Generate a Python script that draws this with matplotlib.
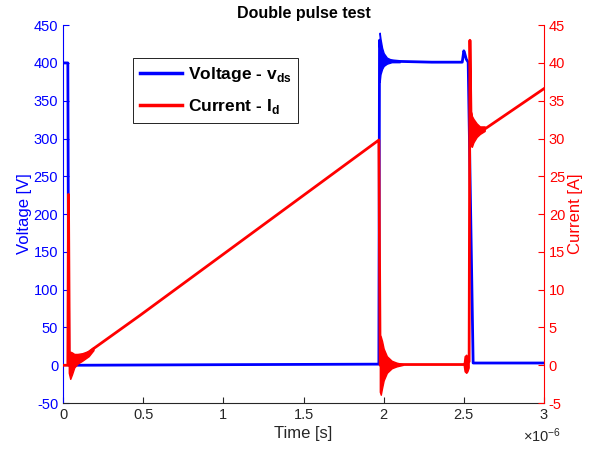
import numpy as np
import matplotlib
matplotlib.use('Agg')
import matplotlib.pyplot as plt
from matplotlib.ticker import ScalarFormatter

plt.rcParams['font.family'] = ['Liberation Sans', 'DejaVu Sans']
plt.rcParams['mathtext.fontset'] = 'custom'
plt.rcParams['mathtext.rm'] = 'Liberation Sans'
plt.rcParams['mathtext.bf'] = 'Liberation Sans:bold'
plt.rcParams['axes.unicode_minus'] = False

# Drain-source voltage (time in us, volts)
v_t = [0, 0.030, 0.036, 1.0, 1.970, 1.974, 1.985, 2.0, 2.1, 2.3, 2.490, 2.500, 2.505, 2.515, 2.527, 2.558, 3.0]
v_val = [400, 400, 0, 0.8, 1.5, 430, 410, 404, 402, 401, 401, 416, 413, 405, 401, 3, 3]

# voltage ringing after turn-off (envelope)
vr_t = [1.975, 1.980, 1.990, 2.000, 2.020, 2.050, 2.100]
vr_hi = [440, 432, 420, 413, 407, 404, 402]
vr_lo = [375, 385, 392, 396, 399, 401, 401]

# Drain current (time in us, amps)
i_t = [0, 0.030, 0.034, 0.040, 0.06, 0.10, 0.19, 0.48, 1.970, 1.978, 2.1, 2.50, 2.533, 2.538, 2.545, 2.552, 2.57, 2.62, 3.0]
i_val = [0, 0, 22.6, 0, 0.5, 0.8, 2.2, 6.6, 29.8, 0, 0.1, 0.1, 0.5, 43, 32.5, 31.0, 30.8, 31.1, 36.6]

# current ringing envelopes
r1_t = [0.036, 0.045, 0.056, 0.07, 0.09, 0.12, 0.16, 0.19]
r1_hi = [1.8, 1.8, 1.7, 1.5, 1.5, 1.6, 1.9, 2.4]
r1_lo = [-1.0, -1.8, -1.2, -0.3, 0.2, 0.6, 1.2, 2.0]

r2_t = [1.976, 1.982, 1.990, 2.000, 2.020, 2.050, 2.080, 2.120]
r2_hi = [4.0, 3.8, 3.2, 2.2, 1.2, 0.6, 0.35, 0.15]
r2_lo = [-3.5, -3.9, -3.0, -2.0, -1.0, -0.4, -0.15, 0.05]

r3_t = [2.500, 2.505, 2.515, 2.522, 2.530]
r3_hi = [0.3, 1.2, 1.4, 1.2, 0.8]
r3_lo = [-0.1, -0.8, -1.0, -0.8, -0.3]

r4_t = [2.545, 2.550, 2.560, 2.580, 2.600, 2.630]
r4_hi = [33.5, 33.0, 32.6, 32.0, 31.6, 31.6]
r4_lo = [29.0, 28.9, 29.5, 30.2, 30.6, 31.0]

us = 1e-6
gray = (0.15, 0.15, 0.15)


# tick labels as 0, 0.5, 1 ... with the x10^-6 offset kept
class PlainSci(ScalarFormatter):
    def _set_format(self):
        self.format = '%g'


fig = plt.figure(figsize=(5.89, 4.57), dpi=100)
ax = fig.add_axes([0.107, 0.118, 0.8166, 0.827])
ax2 = ax.twinx()

ax.plot(np.array(v_t)*us, v_val, color='blue', lw=2, label='Voltage - v$_{\\mathbf{ds}}$')
ax.fill_between(np.array(vr_t)*us, vr_lo, vr_hi, color='blue', lw=1)
ax2.plot(np.array(i_t)*us, i_val, color='red', lw=2, label='Current - I$_{\\mathbf{d}}$')
for rt, hi, lo in [(r1_t, r1_hi, r1_lo), (r2_t, r2_hi, r2_lo), (r3_t, r3_hi, r3_lo), (r4_t, r4_hi, r4_lo)]:
    ax2.fill_between(np.array(rt)*us, lo, hi, color='red', lw=1)

ax.set_xlim(0, 3e-6)
ax.set_ylim(-50, 450)
ax2.set_ylim(-5, 45)
ax.set_xticks(np.arange(0, 3.01e-6, 0.5e-6))
ax.set_yticks(np.arange(-50, 451, 50))
ax2.set_yticks(np.arange(-5, 46, 5))

fmt = PlainSci(useMathText=True)
fmt.set_powerlimits((0, 0))
ax.xaxis.set_major_formatter(fmt)
off = ax.xaxis.get_offset_text()
off.set_color(gray)
off.set_fontsize(10.5)
off.set_x(1.035)

for a in (ax, ax2):
    a.spines['top'].set_visible(False)
ax2.spines['left'].set_visible(False)
ax2.spines['bottom'].set_visible(False)
ax.spines['right'].set_visible(False)
ax.spines['left'].set_color('blue')
ax2.spines['right'].set_color('red')
ax.spines['bottom'].set_color(gray)

ax.tick_params(axis='x', direction='in', length=4, colors=gray, labelsize=10.5)
ax.tick_params(axis='y', direction='in', length=4, colors='blue', labelsize=10.5)
ax2.tick_params(axis='y', direction='in', length=4, colors='red', labelsize=10.5)

ax.set_xlabel('Time [s]', fontsize=12, color=gray, labelpad=3)
ax.set_ylabel('Voltage [V]', fontsize=12, color='blue', labelpad=1)
ax2.set_ylabel('Current [A]', fontsize=12, color='red', labelpad=2)
ax.set_title('Double pulse test', fontsize=11.5, fontweight='bold', pad=5)

h1, l1 = ax.get_legend_handles_labels()
h2, l2 = ax2.get_legend_handles_labels()
leg = ax2.legend(h1 + h2, l1 + l2, loc='upper left', bbox_to_anchor=(0.1455, 0.913),
                 borderaxespad=0, fancybox=False, edgecolor='black', framealpha=1,
                 prop={'weight': 'bold', 'size': 12.5}, handlelength=2.4,
                 handletextpad=0.35, borderpad=0.4, labelspacing=0.75)
leg.get_frame().set_linewidth(0.6)
for ln in leg.get_lines():
    ln.set_linewidth(2.5)

fig.savefig('out.png', dpi=100)
